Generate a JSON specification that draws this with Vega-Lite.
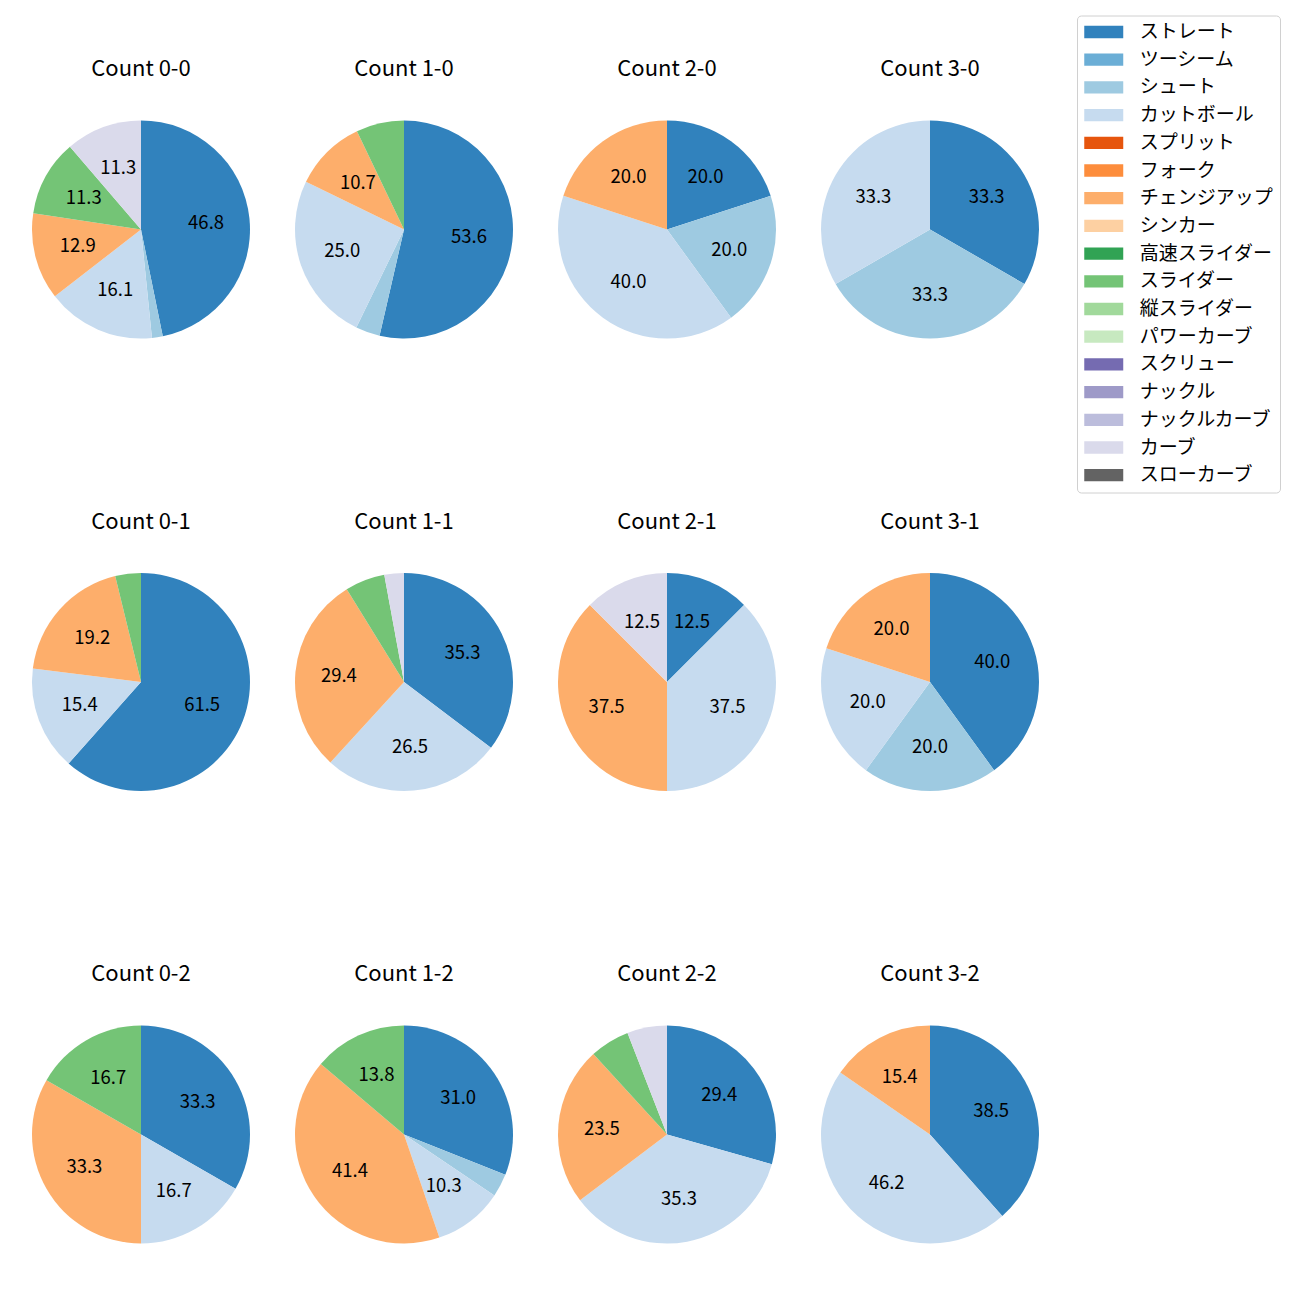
{
  "$schema": "https://vega.github.io/schema/vega-lite/v6.json",
  "padding": {"left": 32, "top": 14.5, "right": 0, "bottom": 0},
  "background": "white",
  "data": {"values": [
    {"c": "Count 0-0", "p": "ストレート", "k": 0, "v": 46.8},
    {"c": "Count 0-0", "p": "シュート", "k": 2, "v": 1.6},
    {"c": "Count 0-0", "p": "カットボール", "k": 3, "v": 16.1},
    {"c": "Count 0-0", "p": "チェンジアップ", "k": 6, "v": 12.9},
    {"c": "Count 0-0", "p": "スライダー", "k": 9, "v": 11.3},
    {"c": "Count 0-0", "p": "カーブ", "k": 15, "v": 11.3},
    {"c": "Count 1-0", "p": "ストレート", "k": 0, "v": 53.6},
    {"c": "Count 1-0", "p": "シュート", "k": 2, "v": 3.6},
    {"c": "Count 1-0", "p": "カットボール", "k": 3, "v": 25.0},
    {"c": "Count 1-0", "p": "チェンジアップ", "k": 6, "v": 10.7},
    {"c": "Count 1-0", "p": "スライダー", "k": 9, "v": 7.1},
    {"c": "Count 2-0", "p": "ストレート", "k": 0, "v": 20.0},
    {"c": "Count 2-0", "p": "シュート", "k": 2, "v": 20.0},
    {"c": "Count 2-0", "p": "カットボール", "k": 3, "v": 40.0},
    {"c": "Count 2-0", "p": "チェンジアップ", "k": 6, "v": 20.0},
    {"c": "Count 3-0", "p": "ストレート", "k": 0, "v": 33.3},
    {"c": "Count 3-0", "p": "シュート", "k": 2, "v": 33.3},
    {"c": "Count 3-0", "p": "カットボール", "k": 3, "v": 33.3},
    {"c": "Count 0-1", "p": "ストレート", "k": 0, "v": 61.5},
    {"c": "Count 0-1", "p": "カットボール", "k": 3, "v": 15.4},
    {"c": "Count 0-1", "p": "チェンジアップ", "k": 6, "v": 19.2},
    {"c": "Count 0-1", "p": "スライダー", "k": 9, "v": 3.8},
    {"c": "Count 1-1", "p": "ストレート", "k": 0, "v": 35.3},
    {"c": "Count 1-1", "p": "カットボール", "k": 3, "v": 26.5},
    {"c": "Count 1-1", "p": "チェンジアップ", "k": 6, "v": 29.4},
    {"c": "Count 1-1", "p": "スライダー", "k": 9, "v": 5.9},
    {"c": "Count 1-1", "p": "カーブ", "k": 15, "v": 2.9},
    {"c": "Count 2-1", "p": "ストレート", "k": 0, "v": 12.5},
    {"c": "Count 2-1", "p": "カットボール", "k": 3, "v": 37.5},
    {"c": "Count 2-1", "p": "チェンジアップ", "k": 6, "v": 37.5},
    {"c": "Count 2-1", "p": "カーブ", "k": 15, "v": 12.5},
    {"c": "Count 3-1", "p": "ストレート", "k": 0, "v": 40.0},
    {"c": "Count 3-1", "p": "シュート", "k": 2, "v": 20.0},
    {"c": "Count 3-1", "p": "カットボール", "k": 3, "v": 20.0},
    {"c": "Count 3-1", "p": "チェンジアップ", "k": 6, "v": 20.0},
    {"c": "Count 0-2", "p": "ストレート", "k": 0, "v": 33.3},
    {"c": "Count 0-2", "p": "カットボール", "k": 3, "v": 16.7},
    {"c": "Count 0-2", "p": "チェンジアップ", "k": 6, "v": 33.3},
    {"c": "Count 0-2", "p": "スライダー", "k": 9, "v": 16.7},
    {"c": "Count 1-2", "p": "ストレート", "k": 0, "v": 31.0},
    {"c": "Count 1-2", "p": "シュート", "k": 2, "v": 3.4},
    {"c": "Count 1-2", "p": "カットボール", "k": 3, "v": 10.3},
    {"c": "Count 1-2", "p": "チェンジアップ", "k": 6, "v": 41.4},
    {"c": "Count 1-2", "p": "スライダー", "k": 9, "v": 13.8},
    {"c": "Count 2-2", "p": "ストレート", "k": 0, "v": 29.4},
    {"c": "Count 2-2", "p": "カットボール", "k": 3, "v": 35.3},
    {"c": "Count 2-2", "p": "チェンジアップ", "k": 6, "v": 23.5},
    {"c": "Count 2-2", "p": "スライダー", "k": 9, "v": 5.9},
    {"c": "Count 2-2", "p": "カーブ", "k": 15, "v": 5.9},
    {"c": "Count 3-2", "p": "ストレート", "k": 0, "v": 38.5},
    {"c": "Count 3-2", "p": "カットボール", "k": 3, "v": 46.2},
    {"c": "Count 3-2", "p": "チェンジアップ", "k": 6, "v": 15.4}
  ]},
  "facet": {
    "field": "c", "type": "nominal",
    "sort": ["Count 0-0", "Count 1-0", "Count 2-0", "Count 3-0", "Count 0-1", "Count 1-1", "Count 2-1", "Count 3-1", "Count 0-2", "Count 1-2", "Count 2-2", "Count 3-2"],
    "header": {"title": null, "labelFontSize": 22, "labelFont": "Noto Sans CJK JP", "labelColor": "black", "labelPadding": 39.5}
  },
  "columns": 4,
  "spacing": {"column": 45, "row": 171.5},
  "resolve": {"scale": {"theta": "independent"}},
  "spec": {
    "width": 218,
    "height": 218,
    "layer": [
      {
        "mark": {"type": "arc", "outerRadius": 109, "strokeWidth": 0},
        "encoding": {
          "theta": {"field": "v", "type": "quantitative", "stack": true},
          "order": {"field": "k", "type": "quantitative"},
          "color": {
            "field": "p", "type": "nominal",
            "scale": {
              "domain": ["ストレート", "ツーシーム", "シュート", "カットボール", "スプリット", "フォーク", "チェンジアップ", "シンカー", "高速スライダー", "スライダー", "縦スライダー", "パワーカーブ", "スクリュー", "ナックル", "ナックルカーブ", "カーブ", "スローカーブ"],
              "range": ["#3182bd", "#6baed6", "#9ecae1", "#c6dbef", "#e6550d", "#fd8d3c", "#fdae6b", "#fdd0a2", "#31a354", "#74c476", "#a1d99b", "#c7e9c0", "#756bb1", "#9e9ac8", "#bcbddc", "#dadaeb", "#636363"]
            },
            "legend": {
              "orient": "none", "legendX": 1045, "legendY": -105,
              "title": null,
              "values": ["ストレート", "ツーシーム", "シュート", "カットボール", "スプリット", "フォーク", "チェンジアップ", "シンカー", "高速スライダー", "スライダー", "縦スライダー", "パワーカーブ", "スクリュー", "ナックル", "ナックルカーブ", "カーブ", "スローカーブ"],
              "symbolType": "M-2,-0.63L2,-0.63L2,0.63L-2,0.63Z",
              "symbolSize": 380,
              "symbolStrokeWidth": 0,
              "symbolOpacity": 1,
              "symbolOffset": 10.25,
              "labelFont": "Noto Sans CJK JP",
              "labelFontSize": 19,
              "labelColor": "black",
              "labelOffset": 26,
              "rowPadding": 7.7,
              "padding": 6.5,
              "strokeColor": "#d0d0d0",
              "cornerRadius": 4,
              "fillColor": "white"
            }
          }
        }
      },
      {
        "mark": {"type": "text", "radius": 65.4, "fontSize": 18.5, "font": "Noto Sans CJK JP", "color": "black"},
        "encoding": {
          "theta": {"field": "v", "type": "quantitative", "stack": true},
          "order": {"field": "k", "type": "quantitative"},
          "detail": {"field": "p", "type": "nominal"},
          "text": {"field": "v", "type": "quantitative", "format": ".1f", "condition": {"test": "datum.v < 10", "value": ""}}
        }
      }
    ]
  },
  "config": {"view": {"stroke": null}}
}
